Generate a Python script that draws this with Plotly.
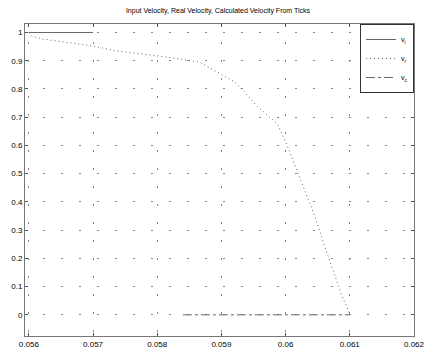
import plotly.graph_objects as go

# Data
t_input = [0.056, 0.057]
v_input = [1.0, 1.0]

t_real = [0.05600, 0.05605, 0.05624, 0.05656, 0.05700, 0.05736, 0.05808, 0.05866,
          0.05922, 0.05956, 0.05987, 0.06002, 0.06017, 0.06031, 0.06046, 0.06058,
          0.06073, 0.06088, 0.06098, 0.06100]
v_real = [1.000, 0.986, 0.976, 0.966, 0.952, 0.935, 0.915, 0.895,
          0.823, 0.738, 0.677, 0.602, 0.517, 0.439, 0.347, 0.262,
          0.160, 0.065, 0.014, 0.0]

t_calc = [0.0584, 0.0610]
v_calc = [0.0, 0.0]

x_ticks = [0.056, 0.057, 0.058, 0.059, 0.060, 0.061, 0.062]
x_tick_labels = ["0.056", "0.057", "0.058", "0.059", "0.06", "0.061", "0.062"]
y_ticks = [0, 0.1, 0.2, 0.3, 0.4, 0.5, 0.6, 0.7, 0.8, 0.9, 1]
y_tick_labels = ["0", "0.1", "0.2", "0.3", "0.4", "0.5", "0.6", "0.7", "0.8", "0.9", "1"]

line_col = "#666666"
fig = go.Figure()
fig.add_trace(go.Scatter(x=t_input, y=v_input, mode="lines", name="v<sub>i</sub>",
                         line=dict(color=line_col, width=1, dash="solid")))
fig.add_trace(go.Scatter(x=t_real, y=v_real, mode="lines", name="v<sub>r</sub>",
                         line=dict(color=line_col, width=1, dash="1px,3px")))
fig.add_trace(go.Scatter(x=t_calc, y=v_calc, mode="lines", name="v<sub>c</sub>",
                         line=dict(color=line_col, width=1, dash="dashdot")))

font = dict(family="Liberation Sans, Arial, sans-serif", size=8, color="black")
fig.update_layout(
    width=436, height=360,
    margin=dict(l=23, r=12, t=24, b=11),
    paper_bgcolor="white", plot_bgcolor="white",
    font=font,
    title=dict(text="Input Velocity, Real Velocity, Calculated Velocity From Ticks",
               x=0.5, xanchor="center", y=0.972, yanchor="middle",
               font=dict(family="Liberation Sans, Arial, sans-serif", size=7, color="black")),
    showlegend=True,
    legend=dict(x=1.0, xanchor="right", y=1.0, yanchor="top",
                bgcolor="white", bordercolor="#333333", borderwidth=1,
                font=dict(size=7, color="black"), itemwidth=30, tracegroupgap=0),
)
fig.update_xaxes(range=[0.05594, 0.0620], tickvals=x_ticks, ticktext=x_tick_labels,
                 showgrid=True, gridcolor="#888888", griddash="2px,16px", gridwidth=1,
                 zeroline=False, showline=True, linecolor="#777777", linewidth=1,
                 mirror="ticks", ticks="inside", ticklen=3, tickcolor="#555555",
                 tickfont=dict(size=8, color="black"))
fig.update_yaxes(range=[-0.075, 1.03], tickvals=y_ticks, ticktext=y_tick_labels,
                 showgrid=True, gridcolor="#888888", griddash="2px,16px", gridwidth=1,
                 zeroline=False, showline=True, linecolor="#777777", linewidth=1,
                 mirror="ticks", ticks="inside", ticklen=3, tickcolor="#555555",
                 tickfont=dict(size=8, color="black"))

fig.write_html("out.html")
